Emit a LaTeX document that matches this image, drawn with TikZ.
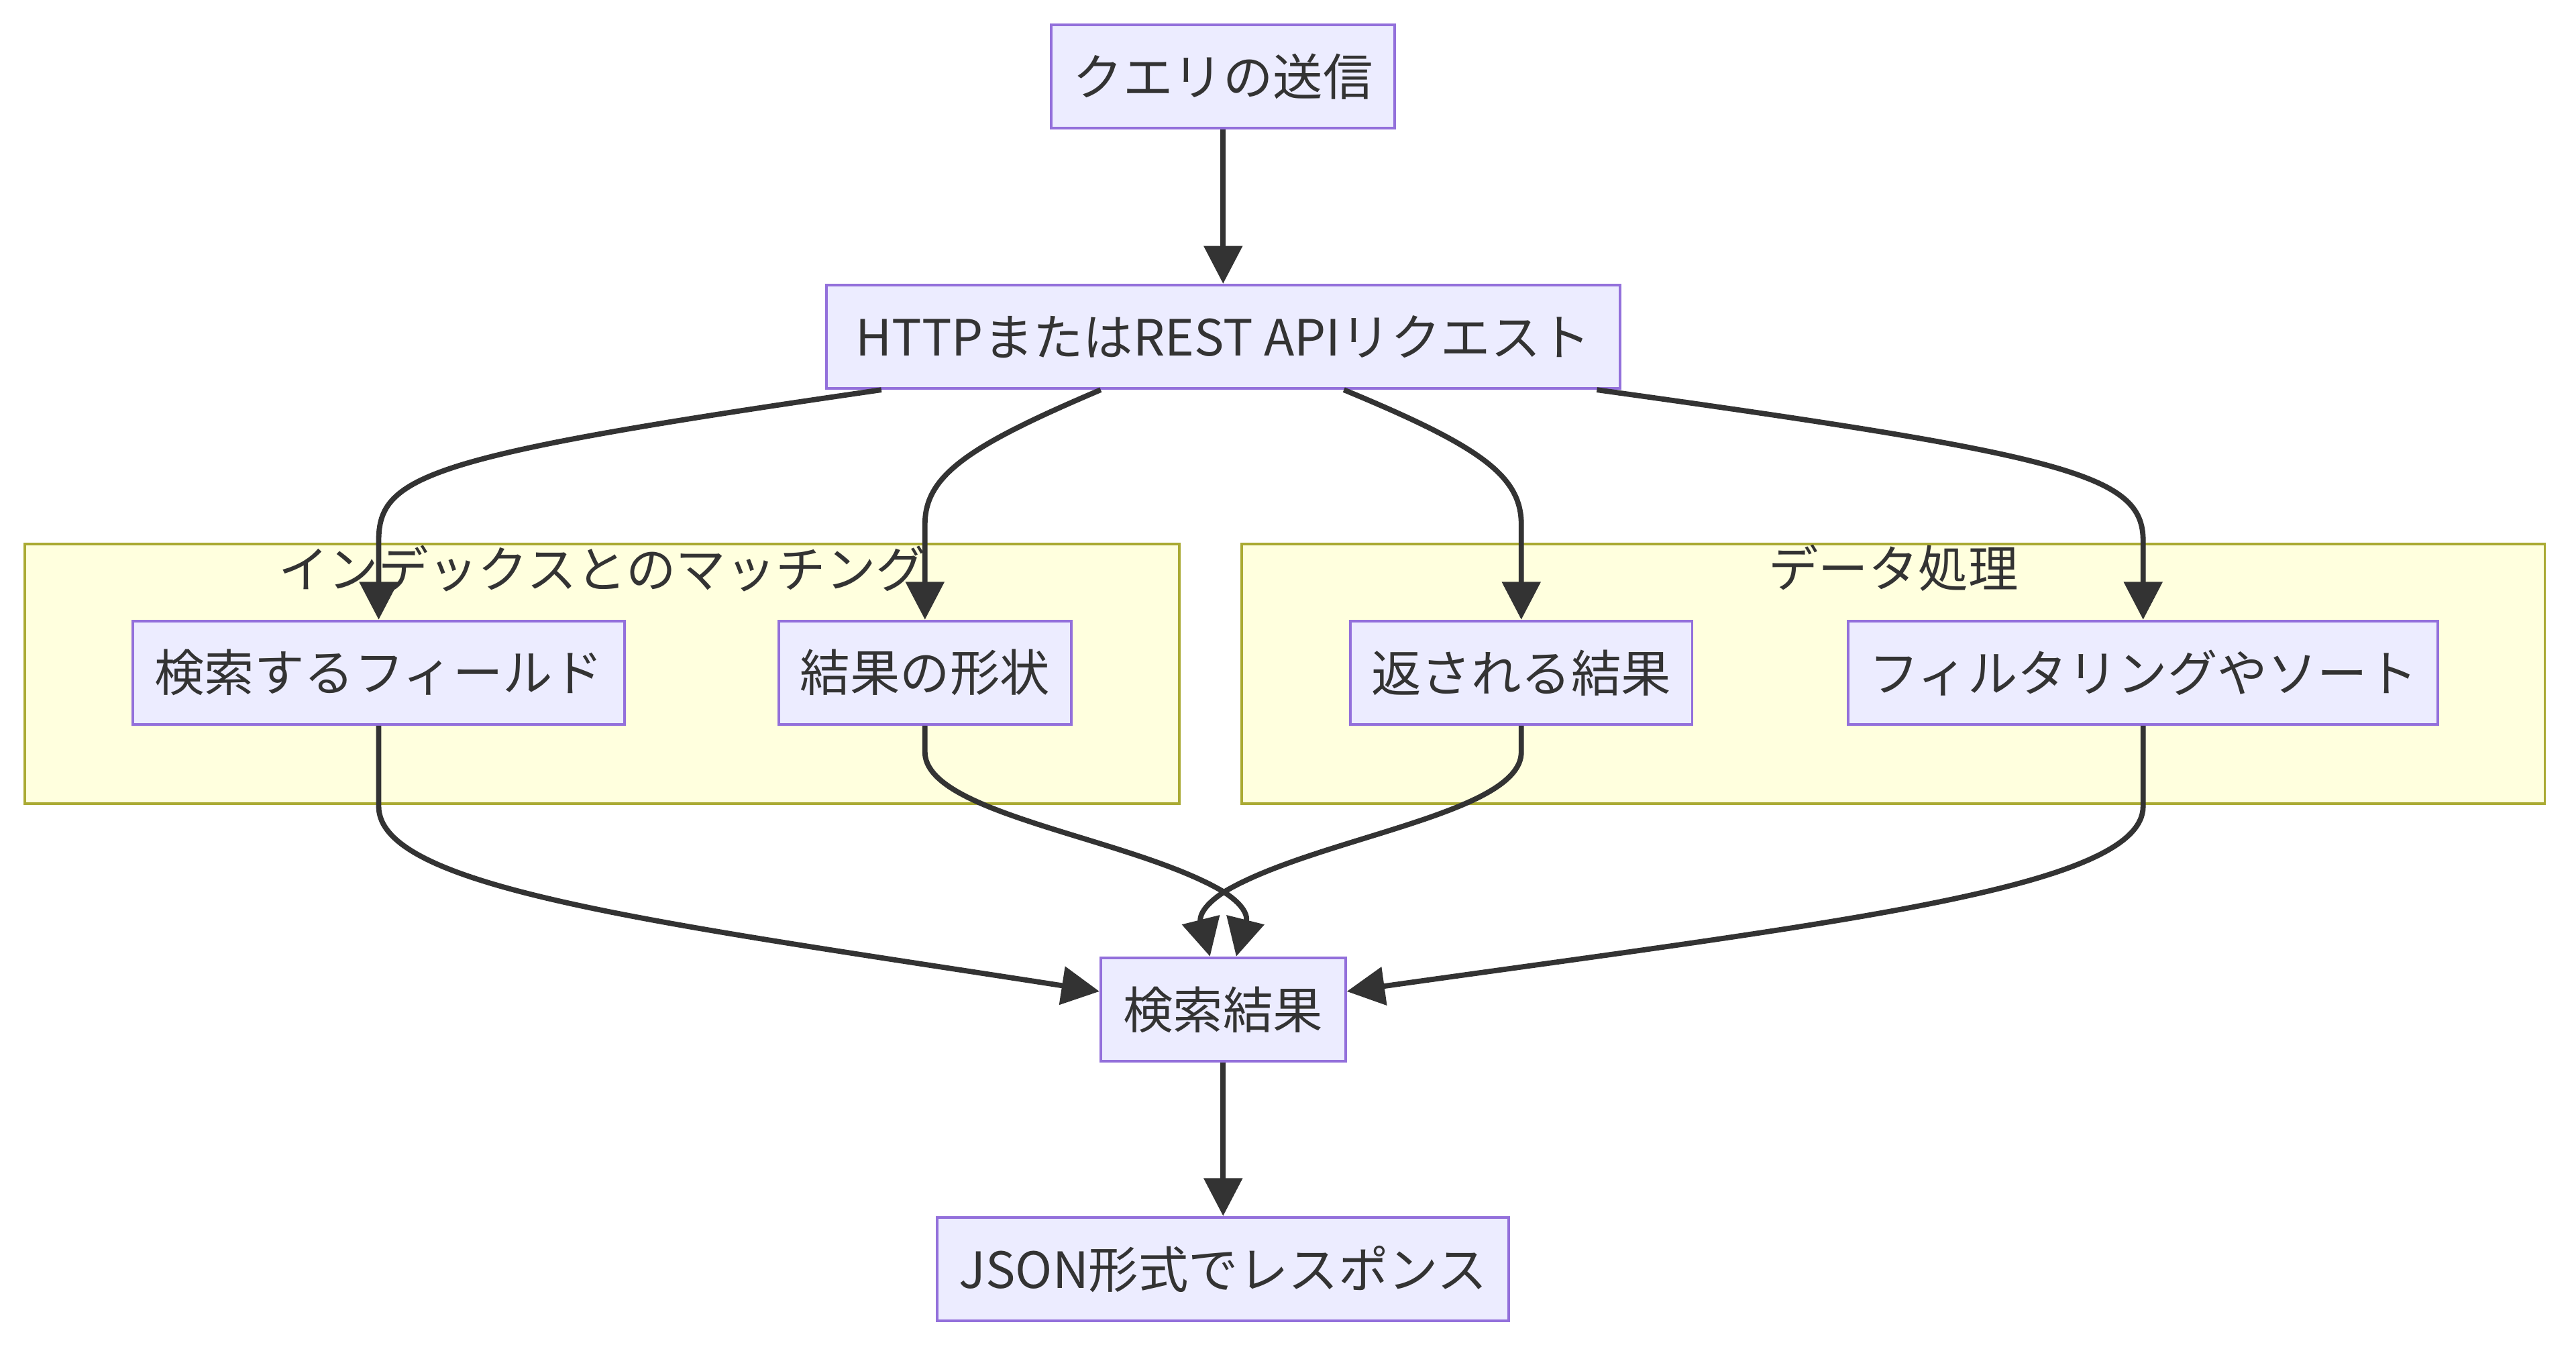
\documentclass[tikz,border=0pt]{standalone}
\usepackage{fontspec}
\setmainfont{Noto Sans CJK JP}
\usetikzlibrary{arrows.meta}
\tikzset{%
  box/.style={%
    rectangle,%
    draw=boxline,%
    fill=boxfill,%
    line width=0.8pt,%
    minimum height=31.5pt,%
    inner sep=0pt,%
    text=ink},
  group/.style={%
    rectangle,%
    draw=groupline,%
    fill=groupfill,%
    line width=0.8pt,%
    minimum height=79pt},
  grouptitle/.style={%
    inner sep=0pt,%
    text=ink},
  flow/.style={%
    draw=ink,%
    line width=1.6pt,%
    -{Triangle[length=11.5pt,width=11.5pt]}}
}
\definecolor{boxfill}{HTML}{ECECFF}
\definecolor{boxline}{HTML}{9370DB}
\definecolor{groupfill}{HTML}{FFFFDE}
\definecolor{groupline}{HTML}{AAAA33}
\definecolor{ink}{HTML}{333333}

\begin{document}
\begin{tikzpicture}[x=0.5pt,y=-0.5pt,every
        node/.style={font=\fontsize{15.2}{18}\selectfont}]
        \useasboundingbox (0,0) rectangle (1568,822);
        % subgraphs
        \node [group,minimum width=351.5pt] (match) at (366.5,410) {};
        \node [group,minimum width=396.5pt] (proc) at (1152.5,410) {};
        \node [grouptitle] (matchtitle) at (366.5,346) {インデックスとのマッチング};
        \node [grouptitle] (proctitle) at (1152.5,346) {データ処理};
        % steps
        \node [box,minimum width=104.5pt] (a) at (744.5,46.5) {クエリの送信};
        \node [box,minimum width=241.5pt] (b) at (744.5,205) {HTTPまたはREST APIリクエスト};
        \node [box,minimum width=149.5pt] (c) at (230.5,409.5) {検索するフィールド};
        \node [box,minimum width=89pt] (d) at (563,409.5) {結果の形状};
        \node [box,minimum width=104pt] (e) at (926,409.5) {返される結果};
        \node [box,minimum width=179.5pt] (f) at (1304.5,409.5) {フィルタリングやソート};
        \node [box,minimum width=74.5pt] (g) at (744.5,614.5) {検索結果};
        \node [box,minimum width=174pt] (h) at (744.5,772.5) {JSON形式でレスポンス};
        \coordinate (cross) at (745,543);
        % edges
        \draw [flow] (a) -- (b);
        \draw [flow] ([xshift=-104pt]b.south) .. controls +(-276,40) and +(0,-40) .. ([yshift=24pt]c.north) -- (c.north);
        \draw [flow] ([xshift=-37.25pt]b.south) .. controls +(-80,34) and +(0,-30) .. ([yshift=29pt]d.north) -- (d.north);
        \draw [flow] ([xshift=36.75pt]b.south) .. controls +(82,34) and +(0,-30) .. ([yshift=29pt]e.north) -- (e.north);
        \draw [flow] ([xshift=113.75pt]b.south) .. controls +(288,40) and +(0,-40) .. ([yshift=24pt]f.north) -- (f.north);
        \draw [flow] (c.south) -- ([yshift=-24.5pt]c.south) .. controls +(0,50) and +(-270,-42) .. ([yshift=5.5pt]g.west);
        \draw [flow] (d.south) -- ([yshift=-8pt]d.south) .. controls +(0,38) and +(-55,-33) .. (cross) .. controls +(20,13) and +(4.5,-18) .. ([xshift=4pt]g.north);
        \draw [flow] (e.south) -- ([yshift=-8pt]e.south) .. controls +(0,38) and +(55,-33) .. (cross) .. controls +(-20,13) and +(-4.5,-18) .. ([xshift=-4pt]g.north);
        \draw [flow] (f.south) -- ([yshift=-24.5pt]f.south) .. controls +(0,50) and +(298,-42) .. ([yshift=5.5pt]g.east);
        \draw [flow] (g) -- (h);
      \end{tikzpicture}
\end{document}
